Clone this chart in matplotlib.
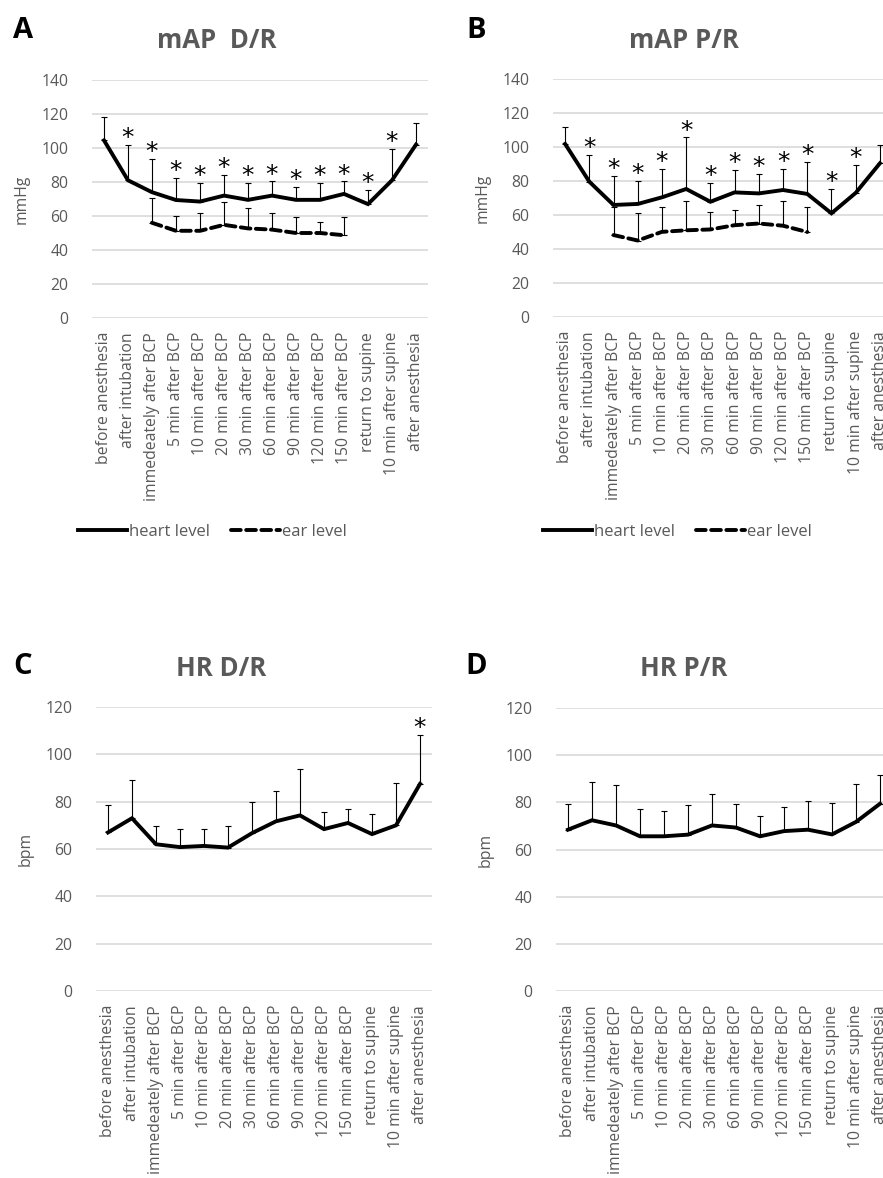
import matplotlib.pyplot as plt
import numpy as np

plt.rcParams['font.family'] = ['Open Sans', 'DejaVu Sans']

# categories (x axis)
labels = ['before anesthesia', 'after intubation', 'immedeately after BCP',
          '5 min after BCP', '10 min after BCP', '20 min after BCP',
          '30 min after BCP', '60 min after BCP', '90 min after BCP',
          '120 min after BCP', '150 min after BCP', 'return to supine',
          '10 min after supine', 'after anesthesia']

nan = np.nan

# A: mAP D/R
a_heart = [104.5, 81, 74, 69.4, 68.5, 72, 69.5, 72, 69.5, 69.5, 73, 67, 81, 102]
a_heart_sd = [13.5, 20.6, 19.5, 13, 10.8, 12.4, 9.8, 8.3, 7.8, 9.8, 7.3, 8.3, 18.6, 12.8]
a_ear = [nan, nan, 56, 51.3, 51.3, 54.8, 52.7, 52, 50, 50, 48.7, nan, nan, nan]
a_ear_sd = [nan, nan, 14.4, 8.9, 10.2, 13.2, 12.3, 10, 9.2, 6.2, 10.5, nan, nan, nan]
a_stars = [1, 2, 3, 4, 5, 6, 7, 8, 9, 10, 11, 12]

# B: mAP P/R
b_heart = [101.8, 79.6, 65.9, 66.5, 70.4, 75.3, 67.8, 73.3, 72.7, 74.7, 72.4, 61, 73, 90.4]
b_heart_sd = [9.7, 15.6, 17.3, 13.5, 16.5, 30.3, 10.8, 13.2, 11.5, 12.2, 18.6, 14.1, 16.5, 10.5]
b_ear = [nan, nan, 48.2, 45, 50.1, 51, 51.5, 54, 55, 53.7, 50, nan, nan, nan]
b_ear_sd = [nan, nan, 16.8, 16.3, 14.9, 17, 10.5, 9, 11, 14.3, 15, nan, nan, nan]
b_stars = [1, 2, 3, 4, 5, 6, 7, 8, 9, 10, 11, 12]

# C: HR D/R
c_hr = [67, 73, 62, 60.8, 61.3, 60.6, 66.7, 71.7, 74.2, 68.4, 71, 66.3, 70, 87.5]
c_hr_sd = [11.7, 16.3, 7.8, 7.6, 7.1, 9.2, 13.2, 12.7, 19.7, 7.2, 6, 8.6, 17.9, 20.6]
c_stars = [13]

# D: HR P/R
d_hr = [68.4, 72.4, 70.2, 65.6, 65.6, 66.3, 70.2, 69.3, 65.6, 67.8, 68.4, 66.4, 71.7, 79.4]
d_hr_sd = [11, 16.2, 17, 11.4, 10.7, 12.4, 13.5, 10.1, 8.6, 10.2, 12.2, 13.5, 16.2, 12]
d_stars = []

W, H = 883, 1178
fig = plt.figure(figsize=(W / 100, H / 100), dpi=100)
GRAY = '#595959'
LW = 2.8


def px_axes(l, t, r, b):
    return fig.add_axes([l / W, 1 - b / H, (r - l) / W, (b - t) / H])


def errbars(ax, x, m, sd):
    m = np.array(m, float)
    sd = np.array(sd, float)
    ax.errorbar(x, m, yerr=[np.zeros_like(sd), sd], fmt='none', ecolor='black',
                elinewidth=0.8, capsize=2.5, capthick=0.8, zorder=2)


def setup(ax, ymax, ylab):
    ax.set_xlim(-0.5, len(labels) - 0.5)
    ax.set_ylim(0, ymax)
    ax.set_yticks(np.arange(0, ymax + 1, 20))
    ax.set_xticks(range(len(labels)))
    ax.set_xticklabels(labels, rotation=90, ha='center', va='top')
    ax.tick_params(axis='both', length=0, colors=GRAY, labelsize=11.3)
    ax.tick_params(axis='y', pad=17)
    ax.tick_params(axis='x', pad=10)
    for s in ax.spines.values():
        s.set_visible(False)
    ax.yaxis.grid(True, color='#d9d9d9', lw=1.2)
    ax.set_axisbelow(True)
    ax.set_ylabel(ylab, color=GRAY, fontsize=11.3)
    ax.yaxis.set_label_coords(-0.185, 0.5)


def stars(ax, idx, m, sd):
    for i in idx:
        ax.annotate('*', (i, m[i] + sd[i]), xytext=(0, 5), textcoords='offset points',
                    ha='center', va='center', fontsize=18, family='DejaVu Sans',
                    annotation_clip=False)


x = np.arange(len(labels))
dash = (0, (2.5, 1.4))

# panel A
axA = px_axes(92, 80, 428, 318)
setup(axA, 140, 'mmHg')
errbars(axA, x, a_heart, a_heart_sd)
errbars(axA, x, a_ear, a_ear_sd)
lh, = axA.plot(x, a_heart, color='black', lw=LW, zorder=3, solid_joinstyle='miter')
le, = axA.plot(x, a_ear, color='black', lw=LW, ls=dash, dash_capstyle='round', zorder=3)
stars(axA, a_stars, a_heart, a_heart_sd)

# panel B
axB = px_axes(553, 79, 892, 317)
setup(axB, 140, 'mmHg')
errbars(axB, x, b_heart, b_heart_sd)
errbars(axB, x, b_ear, b_ear_sd)
axB.plot(x, b_heart, color='black', lw=LW, zorder=3, solid_joinstyle='miter')
axB.plot(x, b_ear, color='black', lw=LW, ls=dash, dash_capstyle='round', zorder=3)
stars(axB, b_stars, b_heart, b_heart_sd)

# panel C
axC = px_axes(96, 707, 432, 991)
setup(axC, 120, 'bpm')
errbars(axC, x, c_hr, c_hr_sd)
axC.plot(x, c_hr, color='black', lw=LW, zorder=3, solid_joinstyle='miter')
stars(axC, c_stars, c_hr, c_hr_sd)

# panel D
axD = px_axes(556, 708, 892, 991)
setup(axD, 120, 'bpm')
errbars(axD, x, d_hr, d_hr_sd)
axD.plot(x, d_hr, color='black', lw=LW, zorder=3, solid_joinstyle='miter')
stars(axD, d_stars, d_hr, d_hr_sd)

# legends
for lx in (78 / W, 543 / W):
    fig.legend([lh, le], ['heart level', 'ear level'], loc='center left',
               bbox_to_anchor=(lx, 1 - 532 / H), ncol=2, frameon=False,
               fontsize=12, labelcolor=GRAY, handlelength=2.95, handletextpad=0.12,
               columnspacing=1.25, borderpad=0, borderaxespad=0)

# titles and panel letters
titles = [('mAP  D/R', 217, 41), ('mAP P/R', 684, 41), ('HR D/R', 221, 669), ('HR P/R', 684, 669)]
for t, tx, ty in titles:
    fig.text(tx / W, 1 - ty / H, t, ha='center', va='center', fontsize=18.5,
             fontweight='bold', color=GRAY)

letters = [('A', 23, 31), ('B', 476, 30), ('C', 23, 667), ('D', 476, 667)]
for t, tx, ty in letters:
    fig.text(tx / W, 1 - ty / H, t, ha='center', va='center', fontsize=21,
             fontweight='bold', color='black')

fig.savefig('out.png', dpi=100)
